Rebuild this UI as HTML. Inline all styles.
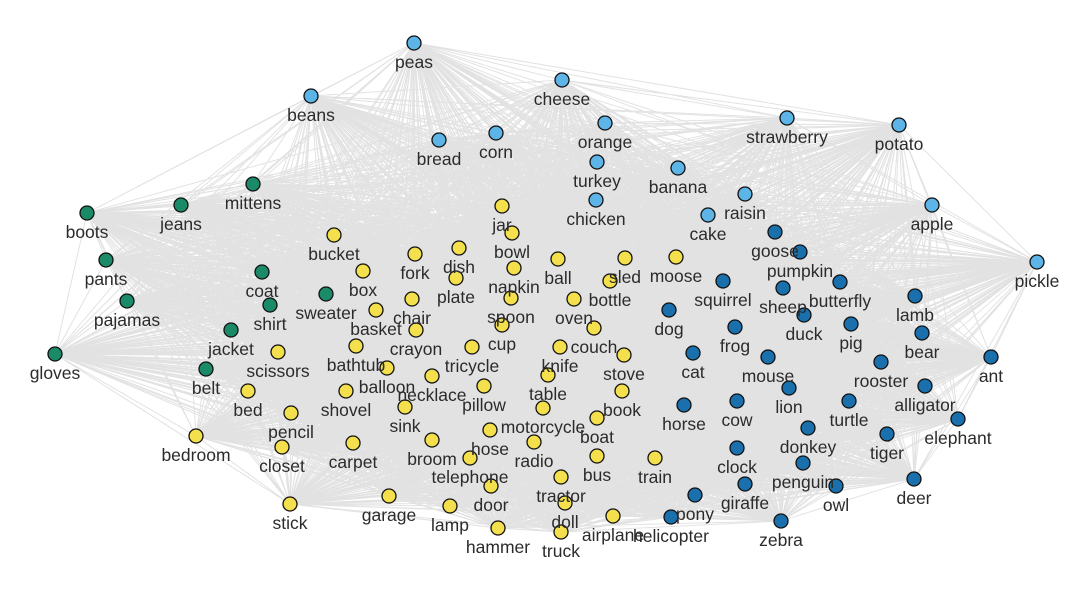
<!DOCTYPE html>
<html><head><meta charset="utf-8"><style>
html,body{margin:0;padding:0;background:#fff;}
svg text{font-family:"Liberation Sans",sans-serif;font-size:17.5px;fill:#2b2b2b;text-anchor:middle;}
</style></head><body>
<svg id="net" width="1086" height="594" xmlns="http://www.w3.org/2000/svg">
<g id="edges"></g>
<g id="nodes"></g>
</svg>
<script>
const foodNames=["peas","cheese","beans","orange","strawberry","potato","bread","corn","turkey","banana","raisin","chicken","cake","apple","pickle"];
const foodX=[414,562,311,605,787,899,439,496,597,678,745,596,708,932,1037];
const foodY=[43,80,96,123,118,125,140,133,162,168,194,200,215,205,262];
const clothNames=["mittens","jeans","boots","pants","pajamas","coat","shirt","sweater","jacket","belt","gloves"];
const clothX=[253,181,87,106,127,262,270,326,231,206,55];
const clothY=[184,205,213,260,301,272,305,294,330,369,354];
const thingNames=["jar","bowl","bucket","fork","dish","box","plate","napkin","ball","sled","moose","chair","spoon","bottle","oven","basket","crayon","cup","couch","bathtub","tricycle","knife","scissors","stove","balloon","necklace","pillow","table","book","bed","shovel","sink","motorcycle","boat","pencil","bedroom","carpet","broom","hose","radio","telephone","bus","train","closet","tractor","stick","garage","lamp","door","doll","airplane","hammer","truck"];
const thingX=[502,512,334,415,459,363,456,514,558,625,676,412,511,610,574,376,416,502,594,356,472,560,278,624,387,432,484,548,622,248,346,405,543,597,291,196,353,432,490,534,470,597,655,282,561,290,389,450,491,565,613,498,561];
const thingY=[206,233,235,254,248,271,278,268,259,258,257,299,298,281,299,310,330,325,328,346,347,347,352,355,368,376,386,375,391,391,391,407,408,418,413,436,443,440,430,442,458,456,458,447,477,504,496,506,486,503,516,528,532];
const animalNames=["goose","pumpkin","squirrel","sheep","butterfly","duck","dog","pig","frog","lamb","bear","cat","mouse","rooster","ant","alligator","lion","cow","turtle","horse","elephant","donkey","tiger","clock","penguin","deer","owl","giraffe","pony","helicopter","zebra"];
const animalX=[775,800,723,783,840,804,669,851,735,915,922,693,768,881,991,925,789,737,849,684,958,808,887,737,803,914,836,745,695,671,781];
const animalY=[232,252,281,288,282,315,310,324,327,296,333,353,357,362,357,386,388,401,401,405,419,428,434,448,463,479,486,484,495,517,521];

const groups=[
 {names:foodNames,xs:foodX,ys:foodY,color:"#5db4e6",key:"food"},
 {names:clothNames,xs:clothX,ys:clothY,color:"#1b8a68",key:"clothing"},
 {names:thingNames,xs:thingX,ys:thingY,color:"#f3e04c",key:"object"},
 {names:animalNames,xs:animalX,ys:animalY,color:"#1a70ad",key:"animal"}
];
const NS="http://www.w3.org/2000/svg";
const all=[];
groups.forEach(g=>g.names.forEach((n,i)=>all.push({n:n,x:g.xs[i],y:g.ys[i],c:g.color,k:g.key})));
const eg=document.getElementById("edges");
let d="";
for(let i=0;i<all.length;i++)for(let j=i+1;j<all.length;j++){
 d+="M"+all[i].x+" "+all[i].y+"L"+all[j].x+" "+all[j].y;
}
for(let pass=0;pass<3;pass++){
const p=document.createElementNS(NS,"path");
p.setAttribute("d",d);
p.setAttribute("stroke","#d6d6d6");
p.setAttribute("stroke-opacity","0.35");
p.setAttribute("stroke-width","0.9");
p.setAttribute("fill","none");


eg.appendChild(p);
}
const ng=document.getElementById("nodes");
all.forEach(o=>{
 const c=document.createElementNS(NS,"circle");
 c.setAttribute("cx",o.x);c.setAttribute("cy",o.y);c.setAttribute("r","7");
 c.setAttribute("fill",o.c);c.setAttribute("stroke","#111");c.setAttribute("stroke-width","1.3");
 
 
 ng.appendChild(c);
});
all.forEach(o=>{
 const t=document.createElementNS(NS,"text");
 t.setAttribute("x",o.x);t.setAttribute("y",o.y+25);
 t.textContent=o.n;
 
 
 ng.appendChild(t);
});
</script>
</body></html>
